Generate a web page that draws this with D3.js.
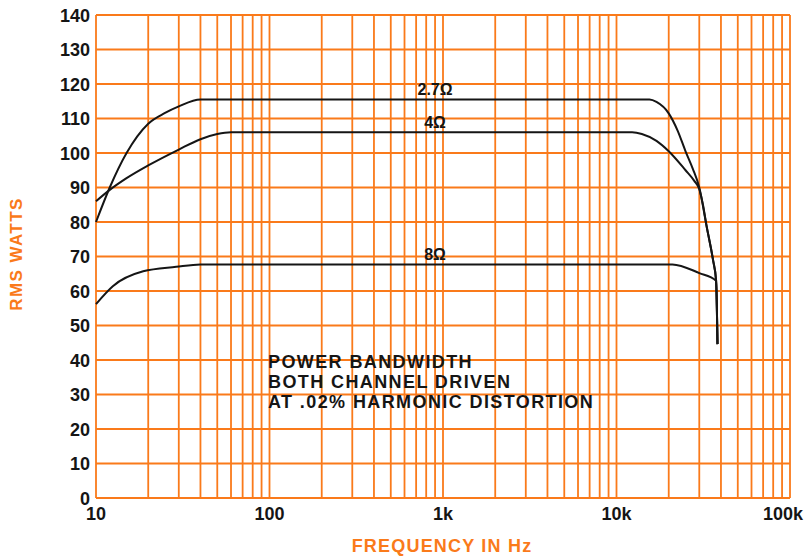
<!DOCTYPE html>
<html>
<head>
<meta charset="utf-8">
<script src="https://cdn.jsdelivr.net/npm/d3@7"></script>
<style>
  body { margin: 0; background: #fff; }
  text { font-family: "Liberation Sans", Arial, Helvetica, sans-serif; font-weight: bold; }
</style>
</head>
<body>
<script>
// power bandwidth curves
var freq27 = [10, 12, 15, 20, 25, 30, 40, 15500, 17000, 20000, 22500, 25000, 27500, 30000, 33000, 36000, 37500, 38200];
var watts27 = [80, 90, 100, 108.5, 111.6, 113.5, 115.5, 115.5, 114.8, 111.5, 106.5, 100.5, 95.5, 90, 79, 69, 63, 44.6];

var freq4 = [10, 12, 15, 20, 30, 40, 50, 60, 12300, 14000, 17000, 20000, 25000, 28000, 30000, 31500, 33000, 36000, 37500, 38200];
var watts4 = [86, 89.3, 92.7, 96.4, 101, 104, 105.5, 106, 106, 105.5, 103.5, 100.5, 95, 92, 89.5, 85, 79, 69, 63, 44.6];

var freq8 = [10, 12.5, 18.7, 29, 40, 21000, 30000, 37500, 38200];
var watts8 = [56.2, 61.4, 65.7, 67, 67.7, 67.7, 65.2, 63, 44.6];

var curveNames = ["2.7\u03a9", "4\u03a9", "8\u03a9"];
var labelFreq = 900;

var xTickValues = [10, 100, 1000, 10000, 100000];
var xTickLabels = ["10", "100", "1k", "10k", "100k"];

var noteLines = [
  "POWER BANDWIDTH",
  "BOTH CHANNEL DRIVEN",
  "AT .02% HARMONIC DISTORTION",
];

var orange = "#fa7a1a";
var ink = "#151515";

var W = 807, H = 559;
var svg = d3.select("body").append("svg")
  .attr("width", W)
  .attr("height", H)
  .style("display", "block");

svg.append("rect")
  .attr("width", W)
  .attr("height", H)
  .attr("fill", "#fff");

var x = d3.scaleLog().domain([10, 100000]).range([96, 790]);
var y = d3.scaleLinear().domain([0, 140]).range([498, 15]);

// grid
var grid = svg.append("g");
grid.selectAll("line.v").data(x.ticks()).enter().append("line")
  .attr("class", "v")
  .attr("x1", function(d) { return x(d); })
  .attr("x2", function(d) { return x(d); })
  .attr("y1", y(0))
  .attr("y2", y(140))
  .attr("stroke", orange)
  .attr("stroke-width", 1.8);
grid.selectAll("line.h").data(d3.range(0, 141, 10)).enter().append("line")
  .attr("class", "h")
  .attr("x1", x(10))
  .attr("x2", x(100000))
  .attr("y1", function(d) { return y(d); })
  .attr("y2", function(d) { return y(d); })
  .attr("stroke", orange)
  .attr("stroke-width", 1.8);

// tick labels
svg.append("g").selectAll("text").data(d3.range(0, 141, 10)).enter().append("text")
  .attr("x", 90)
  .attr("y", function(d) { return y(d); })
  .attr("dy", 6.5)
  .attr("text-anchor", "end")
  .attr("font-size", 18)
  .attr("fill", ink)
  .text(function(d) { return d; });

svg.append("g").selectAll("text").data(xTickValues).enter().append("text")
  .attr("x", function(d) { return x(d); })
  .attr("dx", function(d, i) { return i === xTickValues.length - 1 ? -7 : 0; })
  .attr("y", 520)
  .attr("text-anchor", "middle")
  .attr("font-size", 18)
  .attr("fill", ink)
  .text(function(d, i) { return xTickLabels[i]; });

// axis titles
svg.append("text")
  .attr("transform", "translate(22,254) rotate(-90)")
  .attr("text-anchor", "middle")
  .attr("font-size", 17)
  .attr("letter-spacing", 1.4)
  .attr("fill", orange)
  .text("RMS WATTS");

svg.append("text")
  .attr("x", 442)
  .attr("y", 551.5)
  .attr("text-anchor", "middle")
  .attr("font-size", 18)
  .attr("letter-spacing", 1.2)
  .attr("fill", orange)
  .text("FREQUENCY IN Hz");

// curves
var series = [
  { f: freq27, w: watts27 },
  { f: freq4, w: watts4 },
  { f: freq8, w: watts8 },
];
var line = d3.line()
  .x(function(d) { return x(d[0]); })
  .y(function(d) { return y(d[1]); })
  .curve(d3.curveMonotoneX);

series.forEach(function(s, i) {
  var pts = s.f.map(function(f, j) { return [f, s.w[j]]; });
  svg.append("path")
    .attr("d", line(pts))
    .attr("fill", "none")
    .attr("stroke", ink)
    .attr("stroke-width", 2)
    .attr("stroke-linejoin", "round");
  // label sits just above the flat part
  var flat = d3.max(s.w);
  svg.append("text")
    .attr("x", x(labelFreq))
    .attr("y", y(flat) - 4.5)
    .attr("text-anchor", "middle")
    .attr("font-size", 16)
    .attr("fill", ink)
    .text(curveNames[i]);
});

// note block
svg.append("g").selectAll("text").data(noteLines).enter().append("text")
  .attr("x", 268)
  .attr("y", function(d, i) { return 368 + i * 20; })
  .attr("font-size", 18)
  .attr("letter-spacing", 1.4)
  .attr("fill", ink)
  .text(function(d) { return d; });
</script>
</body>
</html>
